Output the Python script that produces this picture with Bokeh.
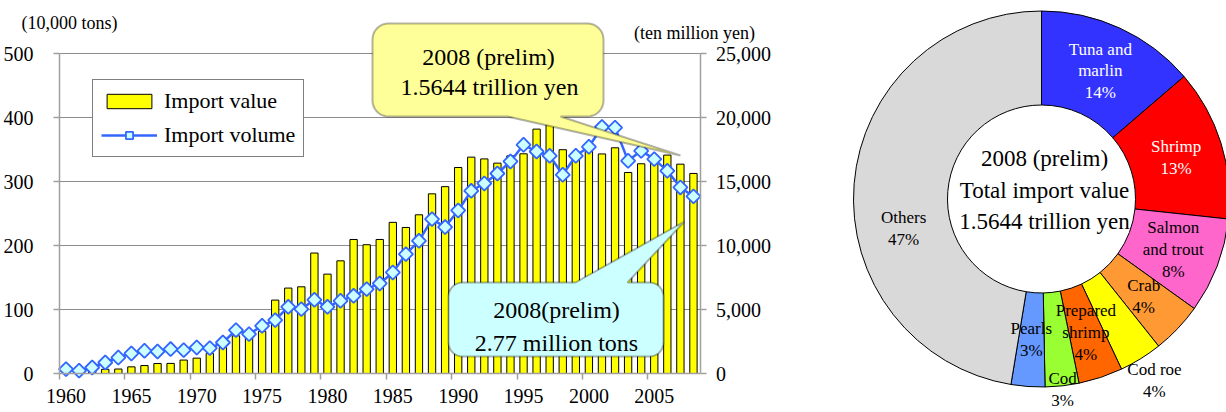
import math
import numpy as np
from bokeh.plotting import figure
from bokeh.layouts import row
from bokeh.models import (Range1d, LinearAxis, FixedTicker, NumeralTickFormatter, Grid,
                          Label, Legend, LegendItem, PolyAnnotation, ColumnDataSource)
from bokeh.core.properties import value
from bokeh.embed import file_html
from bokeh.resources import INLINE

# ---------------- data ----------------
years = list(range(1960, 2009))
# import value, ten million yen (bars, right axis)
import_value = [150, 180, 230, 330, 350, 520, 620, 780, 790, 1050,
                1200, 1560, 2030, 2950, 2830, 3300, 5740, 6680, 6780, 9420,
                7770, 8810, 10480, 10070, 10480, 11820, 11420, 12410, 14050, 14610,
                16110, 16920, 16780, 16450, 17020, 17180, 19110, 19450, 17500, 17250,
                18000, 17170, 17650, 15720, 16400, 17000, 17080, 16370, 15644]
# import volume, 10,000 tons (line, left axis)
import_volume = [6.9, 4.5, 9.4, 17.2, 25.0, 31.3, 35.5, 34.4, 38.2, 36.6,
                 40.7, 39.7, 48.5, 67.9, 61.6, 74.6, 83.5, 104.3, 100.7, 115.3,
                 104.3, 113.7, 121.5, 132.0, 140.8, 158.0, 186.7, 207.5, 241.5, 229.0,
                 255.0, 285.7, 297.2, 312.8, 331.6, 357.7, 347.2, 340.5, 310.8, 340.5,
                 354.6, 385.5, 384.5, 332.7, 348.3, 335.3, 317.0, 291.0, 277.0]
volume_ticks = [0, 100, 200, 300, 400, 500]
value_ticks = [0, 5000, 10000, 15000, 20000, 25000]
year_labels = [1960, 1965, 1970, 1975, 1980, 1985, 1990, 1995, 2000, 2005]

donut_labels = ["Tuna and\nmarlin", "Shrimp", "Salmon\nand trout", "Crab", "Cod roe",
                "Prepared\nshrimp", "Cod", "Pearls", "Others"]
donut_share = [13.7, 13.0, 8.2, 4.4, 3.7, 3.8, 2.9, 2.9, 47.4]
donut_colors = ["#3333FF", "#FF0000", "#FF66CC", "#FF9933", "#FFFF00",
                "#FF6600", "#99FF33", "#6699FF", "#D9D9D9"]
donut_text_colors = ["white", "white", "black", "black", "black",
                     "black", "black", "black", "black"]

SERIF = "Liberation Serif"
AX = "#a0a0a0"

# ---------------- geometry (screenshot pixels, page origin at 0,0) ----------------
H = 412
W_L = 790
W_R = 1226 - W_L
PA_L, PA_R = 59.0, 699.5        # plot-area left / right
PA_B, PA_T = 373.0, 53.3        # y of 0 and of 500
PX_PER_YEAR = (PA_R - PA_L) / 49.0
PX_PER_UNIT = (PA_B - PA_T) / 500.0
RATIO = 50


def dx(sx):
    return 1959.5 + (sx - PA_L) / PX_PER_YEAR


def dy(sy):
    return (PA_B - sy) / PX_PER_UNIT


p = figure(width=W_L, height=H, output_backend="svg", toolbar_location=None, title=None,
           x_range=Range1d(dx(0), dx(W_L)), y_range=Range1d(dy(H), dy(0)),
           x_axis_type=None, y_axis_type=None, min_border=0)
p.outline_line_color = None
p.background_fill_color = "white"
p.extra_y_ranges = {"value": Range1d(dy(H) * RATIO, dy(0) * RATIO)}


def style_axis(ax):
    ax.axis_line_color = AX
    ax.axis_line_width = 1.5
    ax.major_tick_line_color = AX
    ax.major_tick_line_width = 1.5
    ax.major_tick_out = 6
    ax.major_tick_in = 0
    ax.minor_tick_line_color = None
    ax.major_label_text_font = SERIF
    ax.major_label_text_font_size = "20px"
    ax.major_label_text_color = "black"


xaxis = LinearAxis(ticker=FixedTicker(ticks=year_labels,
                                      minor_ticks=[y - 0.5 for y in year_labels]),
                   fixed_location=0, bounds=(1959.5, 2008.5), major_label_standoff=9)
style_axis(xaxis)
xaxis.major_tick_line_color = None
xaxis.minor_tick_line_color = AX
xaxis.minor_tick_line_width = 1.5
xaxis.minor_tick_out = 6
xaxis.minor_tick_in = 0
p.add_layout(xaxis, "below")

laxis = LinearAxis(ticker=FixedTicker(ticks=volume_ticks), bounds=(0, 500),
                   fixed_location=1959.5, major_label_standoff=20)
style_axis(laxis)
p.add_layout(laxis, "left")

raxis = LinearAxis(y_range_name="value", ticker=FixedTicker(ticks=value_ticks),
                   formatter=NumeralTickFormatter(format="0,0"), bounds=(0, 25000),
                   fixed_location=2008.5, major_label_standoff=10)
style_axis(raxis)
p.add_layout(raxis, "right")

grid = Grid(dimension=1, ticker=FixedTicker(ticks=volume_ticks[1:]),
            grid_line_color="#8c8c8c", grid_line_width=1,
            cross_bounds=(1959.5, 2008.5))
p.add_layout(grid)

src = ColumnDataSource(dict(year=years, value=import_value, volume=import_volume))
bars = p.vbar(x="year", top="value", width=0.56, source=src, y_range_name="value",
              fill_color="#FFFF00", line_color="black", line_width=1)
line = p.line("year", "volume", source=src, line_color="#3366FF", line_width=2.5)
pts = p.scatter("year", "volume", source=src, marker="square", angle=math.pi / 4,
                size=10, fill_color="#CCFFFF", line_color="#3366FF", line_width=1.8)


def callout(x0, y0, x1, y1, r, edge, ba, bb, tip, fill):
    pts_ = []

    def arc(cx, cy, a0, a1):
        for t in np.linspace(a0, a1, 10):
            pts_.append((cx + r * np.cos(t), cy + r * np.sin(t)))

    arc(x0 + r, y0 + r, np.pi, 1.5 * np.pi)
    if edge == "top":
        pts_.extend([(ba, y0), tip, (bb, y0)])
    arc(x1 - r, y0 + r, 1.5 * np.pi, 2 * np.pi)
    arc(x1 - r, y1 - r, 0, 0.5 * np.pi)
    if edge == "bottom":
        pts_.extend([(bb, y1), tip, (ba, y1)])
    arc(x0 + r, y1 - r, 0.5 * np.pi, np.pi)
    xs = [float(dx(a)) for a, _ in pts_]
    ys = [float(dy(b)) for _, b in pts_]
    return PolyAnnotation(xs=xs, ys=ys, fill_color=fill, fill_alpha=1.0,
                          line_color="black", line_width=2)


p.add_layout(callout(372, 23, 603, 116, 16, "bottom", 507, 560, (680, 155), "#FFFF99"))
p.add_layout(callout(448, 282, 663, 356, 14, "top", 575, 627, (684, 221), "#CCFFFF"))


def label(sx, sy, text, size, color="black", align="center"):
    return Label(x=dx(sx), y=dy(sy), text=text, text_align=align, text_baseline="middle",
                 text_font=SERIF, text_font_size=size, text_color=color)


p.add_layout(label(488, 56, "2008 (prelim)", "24px"))
p.add_layout(label(489, 86, "1.5644 trillion yen", "24px"))
p.add_layout(label(556, 309, "2008(prelim)", "24px"))
p.add_layout(label(556, 342, "2.77 million tons", "24px"))
p.add_layout(label(69, 22, "(10,000 tons)", "18px"))
p.add_layout(label(694, 32, "(ten million yen)", "18px"))

legend = Legend(items=[LegendItem(label="Import value", renderers=[bars]),
                       LegendItem(label="Import volume", renderers=[line, pts])],
                orientation="vertical")
legend.location = (92, H - 157)
legend.border_line_color = "black"
legend.border_line_width = 1.5
legend.background_fill_color = "white"
legend.background_fill_alpha = 1.0
legend.padding = 8
legend.spacing = 8
legend.margin = 0
legend.glyph_width = 56
legend.glyph_height = 18
legend.label_height = 25
legend.label_standoff = 7
legend.label_text_font = SERIF
legend.label_text_font_size = "22px"
legend.label_text_color = "black"
p.add_layout(legend)

# ---------------- donut ----------------
CX, CY = 1041, 198.5           # screenshot centre of the donut
FX0 = W_L                      # screenshot x of donut figure left
q = figure(width=W_R, height=H, output_backend="svg", toolbar_location=None, title=None,
           x_range=Range1d(FX0 - CX, FX0 + W_R - CX),
           y_range=Range1d(CY - H, CY),
           x_axis_type=None, y_axis_type=None, min_border=0)
q.outline_line_color = None

shares = np.array(donut_share, dtype=float)
cum = np.concatenate([[0.0], np.cumsum(shares)]) / shares.sum() * 360.0
start_deg = cum[:-1]
end_deg = cum[1:]
wsrc = ColumnDataSource(dict(
    start=[math.radians(90 - a) for a in start_deg],
    end=[math.radians(90 - a) for a in end_deg],
    color=donut_colors,
))
q.annular_wedge(x=0, y=0, inner_radius=94, outer_radius=188, start_angle="start",
                end_angle="end", direction="clock", fill_color="color",
                line_color="black", line_width=1, source=wsrc)

label_radius = {4: 214, 6: 192}
label_angle = {8: 258}
lx, ly, ltxt = [], [], []
for i, lab in enumerate(donut_labels):
    mid = label_angle.get(i, (start_deg[i] + end_deg[i]) / 2)
    r = label_radius.get(i, 141)
    lx.append(r * math.sin(math.radians(mid)))
    ly.append(r * math.cos(math.radians(mid)))
    ltxt.append(f"{lab}\n{round(donut_share[i])}%")
tsrc = ColumnDataSource(dict(x=lx, y=ly, text=ltxt, color=donut_text_colors))
q.text(x="x", y="y", text="text", source=tsrc, text_align="center",
       text_baseline="middle", text_font=value(SERIF), text_font_size="17px",
       text_color="color", text_line_height=1.15)

for sy, txt in [(158, "2008 (prelim)"), (189.5, "Total import value"),
                (221, "1.5644 trillion yen")]:
    q.add_layout(Label(x=1044 - CX, y=CY - sy, text=txt, text_align="center",
                       text_baseline="middle", text_font=SERIF, text_font_size="23px",
                       text_color="black"))

layout = row(p, q, spacing=0)
open("out.html", "w").write(file_html(layout, INLINE))
